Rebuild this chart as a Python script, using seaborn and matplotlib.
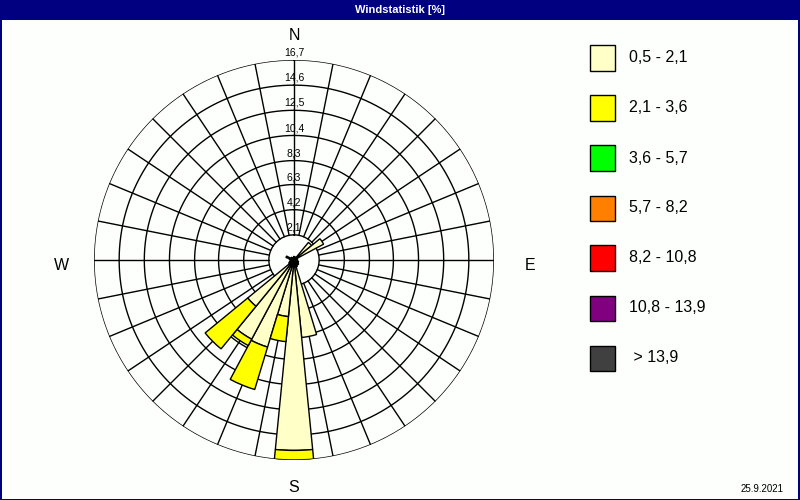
import numpy as np
import pandas as pd
import matplotlib
matplotlib.use("Agg")
import matplotlib.pyplot as plt
from matplotlib.patches import Rectangle
import seaborn as sns

# ---------------- data ----------------
directions = ["N", "NzO", "NNO", "NOzN", "NO", "NOzO", "ONO", "OzN",
              "O", "OzS", "OSO", "SOzO", "SO", "SOzS", "SSO", "SzO",
              "S", "SzW", "SSW", "SWzS", "SW", "SWzW", "WSW", "WzS",
              "W", "WzN", "WNW", "NWzW", "NW", "NWzN", "NNW", "NzW"]

speed_classes = ["0,5 - 2,1", "2,1 - 3,6", "3,6 - 5,7", "5,7 - 8,2",
                 "8,2 - 10,8", "10,8 - 13,9", " > 13,9"]
class_colors = ["#FFFFC8", "#FFFF00", "#00FF00", "#FF8000",
                "#FF0000", "#800080", "#404040"]

freq_05_21 = [0.3, 0.2, 0.2, 0.3, 1.9, 2.8, 0.3, 0.2,
              0.3, 0.3, 0.4, 0.4, 0.5, 0.5, 0.6, 6.5,
              15.9, 4.75, 7.6, 7.5, 5.0, 0.5, 0.4, 0.3,
              0.3, 0.4, 0.7, 0.3, 0.3, 0.2, 0.2, 0.2]
freq_21_36 = [0, 0, 0, 0, 0, 0, 0, 0,
              0, 0, 0, 0, 0, 0, 0, 0,
              0.8, 2.1, 3.7, 0.6, 4.6, 0, 0, 0,
              0, 0, 0, 0, 0, 0, 0, 0]
freq_36_57 = [0, 0, 0, 0, 0, 0, 0, 0, 0, 0, 0, 0, 0, 0, 0, 0,
              0, 0, 0, 0, 0, 0, 0, 0, 0, 0, 0, 0, 0, 0, 0, 0]
freq_57_82 = [0, 0, 0, 0, 0, 0, 0, 0, 0, 0, 0, 0, 0, 0, 0, 0,
              0, 0, 0, 0, 0, 0, 0, 0, 0, 0, 0, 0, 0, 0, 0, 0]
freq_82_108 = [0, 0, 0, 0, 0, 0, 0, 0, 0, 0, 0, 0, 0, 0, 0, 0,
               0, 0, 0, 0, 0, 0, 0, 0, 0, 0, 0, 0, 0, 0, 0, 0]
freq_108_139 = [0, 0, 0, 0, 0, 0, 0, 0, 0, 0, 0, 0, 0, 0, 0, 0,
                0, 0, 0, 0, 0, 0, 0, 0, 0, 0, 0, 0, 0, 0, 0, 0]
freq_139 = [0, 0, 0, 0, 0, 0, 0, 0, 0, 0, 0, 0, 0, 0, 0, 0,
            0, 0, 0, 0, 0, 0, 0, 0, 0, 0, 0, 0, 0, 0, 0, 0]

ring_values = [2.1, 4.2, 6.3, 8.3, 10.4, 12.5, 14.6, 16.7]
ring_labels = ["2,1", "4,2", "6,3", "8,3", "10,4", "12,5", "14,6", "16,7"]

title = "Windstatistik [%]"
date_text = "25.9.2021"

# ---------------- style ----------------
sns.set_theme(style="white")
plt.rcParams['font.family'] = ['Liberation Sans', 'DejaVu Sans']

W, H = 800, 500
bg = "#FDFFFD"
navy = "#000080"

fig = plt.figure(figsize=(W / 100, H / 100), dpi=100)
fig.patch.set_facecolor(bg)


def fx(x):
    return x / W


def fy(y):
    return 1 - y / H


# polar axes: centre at (294, 260) px, radius 200 px
ax = fig.add_axes([94 / W, 40 / H, 400 / W, 400 / H], projection="polar")
ax.set_theta_zero_location("N")
ax.set_theta_direction(-1)
ax.set_ylim(0, ring_values[-1])
ax.set_facecolor("none")
ax.grid(False)
ax.set_xticks([])
ax.set_yticks([])
ax.spines['polar'].set_visible(False)

n = len(directions)
theta = np.deg2rad(np.arange(n) * 360.0 / n)
width = 2 * np.pi / n

# grid rings and spokes
circ = np.linspace(0, 2 * np.pi, 1441)
for rv in ring_values:
    ax.plot(circ, np.full_like(circ, rv), color="black", lw=1, zorder=1)
for t in theta:
    ax.plot([t, t], [ring_values[0], ring_values[-1]], color="black", lw=1, zorder=1)

# stacked bars
df = pd.DataFrame({
    "direction": directions,
    speed_classes[0]: freq_05_21,
    speed_classes[1]: freq_21_36,
    speed_classes[2]: freq_36_57,
    speed_classes[3]: freq_57_82,
    speed_classes[4]: freq_82_108,
    speed_classes[5]: freq_108_139,
    speed_classes[6]: freq_139,
})
palette = sns.color_palette(class_colors)
bottom = np.zeros(n)
for cls, col in zip(speed_classes, palette):
    vals = df[cls].to_numpy(dtype=float)
    m = vals > 0
    if m.any():
        ax.bar(theta[m], vals[m], width=width, bottom=bottom[m], color=col,
               edgecolor="black", linewidth=1, zorder=3, align="center")
    bottom += vals

# ring labels along the north axis
for rv, lab in zip(ring_values, ring_labels):
    ax.text(0, rv + 0.62, lab, ha="center", va="center", fontsize=7.5,
            color="black", zorder=4)

# compass letters
for lab, (x, y) in zip(["N", "E", "S", "W"], [(294, 36), (530, 265), (294, 488), (61, 265)]):
    fig.text(fx(x), fy(y), lab, ha="center", va="center", fontsize=11.5, color="black")

# legend
for i, (cls, col) in enumerate(zip(speed_classes, palette)):
    yc = 58 + 50 * i
    fig.add_artist(Rectangle((fx(590), fy(yc + 12.5)), 25 / W, 25 / H,
                             transform=fig.transFigure, facecolor=col,
                             edgecolor="black", linewidth=1))
    fig.text(fx(629), fy(yc), cls, ha="left", va="center", fontsize=11.5, color="black")

# title bar and frame
fig.add_artist(Rectangle((0, fy(20)), 1, 20 / H, transform=fig.transFigure,
                         facecolor=navy, edgecolor="none"))
fig.text(0.5, fy(10), title, ha="center", va="center", fontsize=8,
         fontweight="bold", color="white")
fig.add_artist(Rectangle((0, 0), 1.5 / W, 1, transform=fig.transFigure,
                         facecolor=navy, edgecolor="none"))
fig.add_artist(Rectangle((1 - 2 / W, 0), 2 / W, 1, transform=fig.transFigure,
                         facecolor=navy, edgecolor="none"))
fig.add_artist(Rectangle((0, 0), 1, 1.5 / H, transform=fig.transFigure,
                         facecolor=navy, edgecolor="none"))

fig.text(fx(784), fy(489), date_text, ha="right", va="center", fontsize=7, color="black")

fig.savefig("out.png", dpi=100, facecolor=fig.get_facecolor())
